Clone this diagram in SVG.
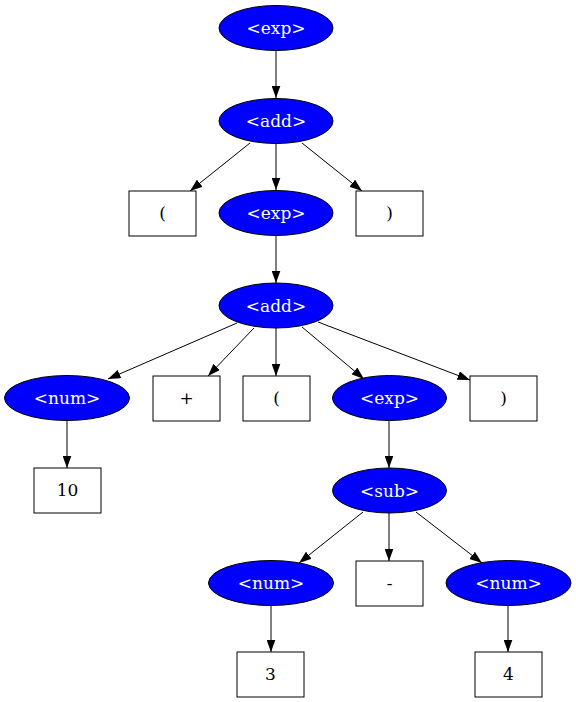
<svg xmlns="http://www.w3.org/2000/svg" width="576" height="702" viewBox="0 0 576 702">
<style>
.nt ellipse{fill:#0000ff;stroke:#000;stroke-width:1}
.nt text{fill:#fff}
.t rect{fill:#fff;stroke:#000;stroke-width:1}
.t text{fill:#000}
text{font-family:"DejaVu Serif","Liberation Serif",serif;font-size:17px;text-anchor:middle}
#edges line{stroke:#000;stroke-width:1;marker-end:url(#arr)}
</style>
<defs>
<marker id="arr" viewBox="0 0 12.5 9" refX="12.5" refY="4.5" markerWidth="12.5" markerHeight="9" markerUnits="userSpaceOnUse" orient="auto">
<path d="M0,0 L12.5,4.5 L0,9 z" fill="#000"/>
</marker>
</defs>
<rect width="576" height="702" fill="#fff"/>
<g id="edges">
<line x1="276" y1="51" x2="276" y2="98"/>
<line x1="250" y1="143" x2="190" y2="191"/>
<line x1="276" y1="144" x2="276" y2="190"/>
<line x1="302" y1="143" x2="362" y2="191"/>
<line x1="276" y1="236" x2="276" y2="283"/>
<line x1="237" y1="323" x2="108" y2="379"/>
<line x1="254" y1="328" x2="208" y2="376"/>
<line x1="276" y1="328" x2="276" y2="376"/>
<line x1="302" y1="327" x2="364" y2="379"/>
<line x1="318" y1="322" x2="470" y2="380"/>
<line x1="67" y1="421" x2="67" y2="468"/>
<line x1="389" y1="421" x2="389" y2="468"/>
<line x1="363" y1="512" x2="299" y2="563"/>
<line x1="389" y1="513" x2="389" y2="561"/>
<line x1="416" y1="512" x2="482" y2="563"/>
<line x1="271" y1="606" x2="271" y2="652"/>
<line x1="508" y1="606" x2="508" y2="652"/>
</g>
<g id="exp1" class="nt"><ellipse cx="276" cy="28" rx="57" ry="22.5"/><text x="276" y="34">&lt;exp&gt;</text></g>
<g id="add1" class="nt"><ellipse cx="276" cy="121" rx="57" ry="22.5"/><text x="276" y="127">&lt;add&gt;</text></g>
<g id="lp1" class="t"><rect x="129" y="191" width="67" height="45"/><text x="162.5" y="219">(</text></g>
<g id="exp2" class="nt"><ellipse cx="276" cy="213" rx="57" ry="22.5"/><text x="276" y="219">&lt;exp&gt;</text></g>
<g id="rp1" class="t"><rect x="356" y="191" width="67" height="45"/><text x="389.5" y="219">)</text></g>
<g id="add2" class="nt"><ellipse cx="276" cy="305.5" rx="57" ry="22.5"/><text x="276" y="311.5">&lt;add&gt;</text></g>
<g id="num1" class="nt"><ellipse cx="67" cy="398" rx="62.5" ry="22.5"/><text x="67" y="404">&lt;num&gt;</text></g>
<g id="plus" class="t"><rect x="153" y="376" width="67" height="45"/><text x="186.5" y="404">+</text></g>
<g id="lp2" class="t"><rect x="243" y="376" width="67" height="45"/><text x="276.5" y="404">(</text></g>
<g id="exp3" class="nt"><ellipse cx="389.5" cy="398" rx="57" ry="22.5"/><text x="389.5" y="404">&lt;exp&gt;</text></g>
<g id="rp2" class="t"><rect x="470" y="376" width="67" height="45"/><text x="503.5" y="404">)</text></g>
<g id="n10" class="t"><rect x="34" y="468" width="67" height="45"/><text x="67.5" y="496">10</text></g>
<g id="sub1" class="nt"><ellipse cx="389.5" cy="490.5" rx="57" ry="22.5"/><text x="389.5" y="496.5">&lt;sub&gt;</text></g>
<g id="num2" class="nt"><ellipse cx="271" cy="583" rx="62.5" ry="22.5"/><text x="271" y="589">&lt;num&gt;</text></g>
<g id="minus" class="t"><rect x="356" y="561" width="67" height="45"/><text x="389.5" y="589">-</text></g>
<g id="num3" class="nt"><ellipse cx="508.5" cy="583" rx="62.5" ry="22.5"/><text x="508.5" y="589">&lt;num&gt;</text></g>
<g id="n3" class="t"><rect x="237" y="652" width="67" height="45"/><text x="270.5" y="680">3</text></g>
<g id="n4" class="t"><rect x="475" y="652" width="67" height="45"/><text x="508.5" y="680">4</text></g>
</svg>
